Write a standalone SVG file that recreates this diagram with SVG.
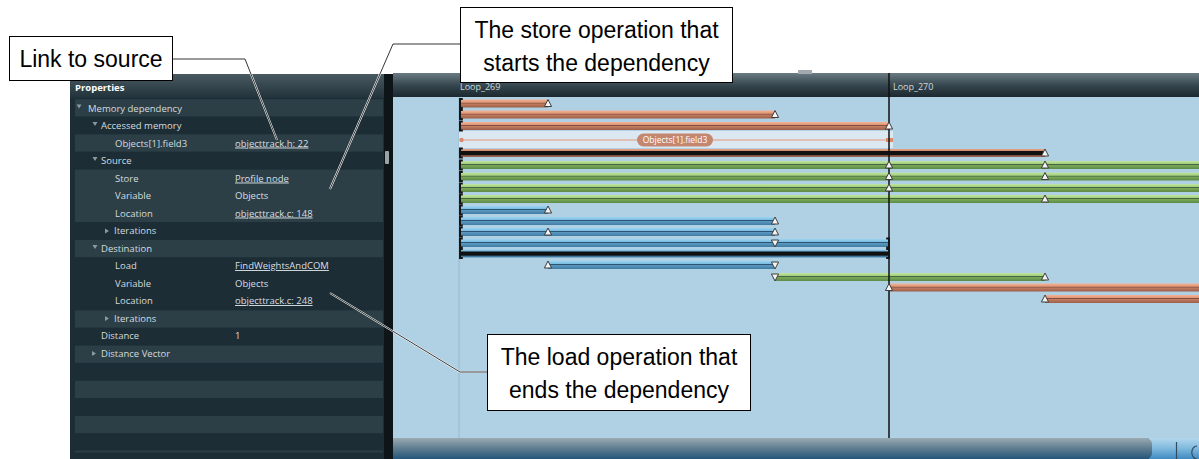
<svg xmlns="http://www.w3.org/2000/svg" width="1199" height="459" viewBox="0 0 1199 459">
<defs>
<linearGradient id="gHdr" x1="0" y1="0" x2="0" y2="1"><stop offset="0" stop-color="#6b7b83"/><stop offset="0.5" stop-color="#37474f"/><stop offset="1" stop-color="#1b2830"/></linearGradient>
<linearGradient id="gPHdr" x1="0" y1="0" x2="0" y2="1"><stop offset="0" stop-color="#4a5a62"/><stop offset="1" stop-color="#22323a"/></linearGradient>
<linearGradient id="gO" x1="0" y1="0" x2="0" y2="1"><stop offset="0" stop-color="#f2b497"/><stop offset="0.36" stop-color="#e09474"/><stop offset="0.44" stop-color="#7e4e3d"/><stop offset="0.56" stop-color="#c27b61"/><stop offset="1" stop-color="#9c5f48"/></linearGradient>
<linearGradient id="gOB" x1="0" y1="0" x2="0" y2="1"><stop offset="0" stop-color="#e8a284"/><stop offset="0.22" stop-color="#d08a70"/><stop offset="0.28" stop-color="#111"/><stop offset="0.72" stop-color="#111"/><stop offset="0.8" stop-color="#7a4d3e"/><stop offset="1" stop-color="#a96b55"/></linearGradient>
<linearGradient id="gG" x1="0" y1="0" x2="0" y2="1"><stop offset="0" stop-color="#c2e5a0"/><stop offset="0.36" stop-color="#a1cf7e"/><stop offset="0.44" stop-color="#44613a"/><stop offset="0.56" stop-color="#78a758"/><stop offset="1" stop-color="#5e8a46"/></linearGradient>
<linearGradient id="gB" x1="0" y1="0" x2="0" y2="1"><stop offset="0" stop-color="#9ed5f1"/><stop offset="0.36" stop-color="#79bbe2"/><stop offset="0.44" stop-color="#28516d"/><stop offset="0.56" stop-color="#5a97c0"/><stop offset="1" stop-color="#417ba2"/></linearGradient>
<linearGradient id="gBB" x1="0" y1="0" x2="0" y2="1"><stop offset="0" stop-color="#8fcbec"/><stop offset="0.22" stop-color="#6eb0d8"/><stop offset="0.28" stop-color="#111"/><stop offset="0.72" stop-color="#111"/><stop offset="0.8" stop-color="#3c6f92"/><stop offset="1" stop-color="#4a84ab"/></linearGradient>
<linearGradient id="gScroll" x1="0" y1="0" x2="0" y2="1"><stop offset="0" stop-color="#9aabb3"/><stop offset="0.5" stop-color="#5e7d8f"/><stop offset="1" stop-color="#24557a"/></linearGradient>
<linearGradient id="gScroll2" x1="0" y1="0" x2="0" y2="1"><stop offset="0" stop-color="#b3d8ee"/><stop offset="0.5" stop-color="#7fb8dc"/><stop offset="1" stop-color="#3e8ac2"/></linearGradient>
<path id="tu" d="M0,-4 L3.6,3 L-3.6,3 Z" fill="#f4f4f4" stroke="#3d3d3d" stroke-width="1"/>
<path id="td" d="M-3.6,-3 L3.6,-3 L0,4 Z" fill="#f4f4f4" stroke="#3d3d3d" stroke-width="1"/>
<path id="bs" d="M3.8,-4.5 H1 V4.5 H3.8" fill="none" stroke="#151515" stroke-width="2"/>
<path id="be" d="M-3.8,-4.5 H-1 V4.5 H-3.8" fill="none" stroke="#151515" stroke-width="2"/>
</defs>
<style>
.pt{font-family:"Open Sans","Noto Sans",sans-serif;font-size:9.5px;fill:#d3dbdf}
.pv{font-family:"Open Sans","Noto Sans",sans-serif;font-size:9.5px;fill:#d8dfe3}
.pu{text-decoration:underline}
.arr{fill:#8c9aa0}
.rl{fill:#2c3f47}
.cb{fill:#ffffff;stroke:#000;stroke-width:1}
.ct{font-family:"Liberation Sans",Arial,sans-serif;font-size:23px;fill:#000;text-anchor:middle}
.lh{fill:none;stroke:#ffffff;stroke-width:2}
.ln{fill:none;stroke:#000;stroke-width:0.8}
.lt{font-family:"Open Sans","Noto Sans",sans-serif;font-size:9px;fill:#d0d8dc}
.o{fill:url(#gO)}
.ob{fill:url(#gOB)}
.g{fill:url(#gG)}
.b{fill:url(#gB)}
.bb{fill:url(#gBB)}
</style>
<rect width="1199" height="459" fill="#ffffff"/>

<g id="properties-panel">
<rect x="70" y="74" width="315" height="385" fill="#1c2d35"/>
<rect x="70" y="74" width="315" height="24" fill="url(#gPHdr)"/>
<text x="75" y="91" font-family="Open Sans, Noto Sans, sans-serif" font-size="9.5" font-weight="bold" fill="#ffffff">Properties</text>
<rect class="rl" x="75" y="99.2" width="308" height="17.2"/>
<rect class="rl" x="75" y="134.4" width="308" height="17.2"/>
<rect class="rl" x="75" y="169.6" width="308" height="52.4"/>
<rect class="rl" x="75" y="240" width="308" height="17.2"/>
<rect class="rl" x="75" y="310.4" width="308" height="17.2"/>
<rect class="rl" x="75" y="345.6" width="308" height="17.2"/>
<rect class="rl" x="75" y="380.8" width="308" height="17.2"/>
<rect class="rl" x="75" y="416" width="308" height="17.2"/>
<rect class="rl" x="75" y="450.5" width="308" height="2"/>
<path class="arr" d="M76.5,104.5 h5 l-2.5,4 z"/>
<text class="pt" x="88" y="111.5">Memory dependency</text>
<path class="arr" d="M92.5,122 h5 l-2.5,4 z"/>
<text class="pt" x="101" y="129">Accessed memory</text>
<text class="pt" x="115" y="146.5">Objects[1].field3</text>
<text class="pv pu" x="235" y="146.5">objecttrack.h: 22</text>
<path class="arr" d="M92.5,157 h5 l-2.5,4 z"/>
<text class="pt" x="101" y="164">Source</text>
<text class="pt" x="115" y="181.5">Store</text>
<text class="pv pu" x="235" y="181.5">Profile node</text>
<text class="pt" x="115" y="199">Variable</text>
<text class="pv" x="235" y="199">Objects</text>
<text class="pt" x="115" y="216.5">Location</text>
<text class="pv pu" x="235" y="216.5">objecttrack.c: 148</text>
<path class="arr" d="M105,228.5 v5 l4,-2.5 z"/>
<text class="pt" x="114" y="234">Iterations</text>
<path class="arr" d="M92.5,245 h5 l-2.5,4 z"/>
<text class="pt" x="101" y="251.5">Destination</text>
<text class="pt" x="115" y="269">Load</text>
<text class="pv pu" x="235" y="269">FindWeightsAndCOM</text>
<text class="pt" x="115" y="286.5">Variable</text>
<text class="pv" x="235" y="286.5">Objects</text>
<text class="pt" x="115" y="304">Location</text>
<text class="pv pu" x="235" y="304">objecttrack.c: 248</text>
<path class="arr" d="M105,316 v5 l4,-2.5 z"/>
<text class="pt" x="114" y="321.5">Iterations</text>
<text class="pt" x="101" y="339">Distance</text>
<text class="pv" x="235" y="339">1</text>
<path class="arr" d="M92,351 v5 l4,-2.5 z"/>
<text class="pt" x="101" y="356.5">Distance Vector</text>
<rect x="384" y="74" width="9" height="385" fill="#0d1519"/>
<rect x="385" y="151" width="4" height="13" rx="1" fill="#9aa3a8"/>
</g>

<g id="timeline">
<rect x="393" y="97" width="806" height="341" fill="#b0d0e4"/>
<rect x="393" y="73" width="806" height="24" fill="url(#gHdr)"/>
<rect x="798" y="70" width="14" height="4" fill="#a0aab0"/>
<text class="lt" x="460" y="90">Loop_269</text>
<text class="lt" x="893" y="90">Loop_270</text>
<line x1="459" y1="97" x2="459" y2="438" stroke="#98b9ce" stroke-width="1"/>
<rect x="393" y="438" width="756" height="21" fill="url(#gScroll)"/>
<rect x="1149" y="438" width="50" height="21" fill="url(#gScroll2)"/>
<rect x="1140" y="438" width="12" height="21" rx="6" fill="url(#gScroll)"/>
<line x1="1176.5" y1="442" x2="1176.5" y2="459" stroke="#2d4c62" stroke-width="1.2"/>
<path d="M1197,446 a4,5 0 0 0 0,13" fill="none" stroke="#2d4c62" stroke-width="1.2"/>
</g>

<g id="highlight-row">
<rect x="459" y="131" width="434" height="17" fill="#dbe8f1"/>
<line x1="461" y1="140" x2="891" y2="140" stroke="#e2b3a1" stroke-width="1.3"/>
<circle cx="461.5" cy="140" r="2.2" fill="#d98c6c"/>
<rect x="886" y="138" width="7" height="4" fill="#d98c6c"/>
<rect x="637" y="133.5" width="76" height="13" rx="6.5" fill="#c58670"/>
<text x="675" y="143" font-family="Open Sans, Noto Sans, sans-serif" font-size="8.5" fill="#ffffff" text-anchor="middle">Objects[1].field3</text>
</g>

<g id="bars">
<rect class="o" x="460" y="99.5" width="88" height="8"/>
<rect class="o" x="460" y="110.5" width="315" height="8"/>
<rect class="o" x="460" y="122" width="429" height="8"/>
<rect class="ob" x="460" y="149" width="585" height="8"/>
<rect class="g" x="460" y="161" width="739" height="8"/>
<rect class="g" x="460" y="172.5" width="739" height="8"/>
<rect class="g" x="460" y="184" width="739" height="8"/>
<rect class="g" x="460" y="195" width="739" height="8"/>
<rect class="b" x="460" y="206" width="88" height="8"/>
<rect class="b" x="460" y="217" width="315" height="8"/>
<rect class="b" x="460" y="228" width="315" height="8"/>
<rect class="b" x="460" y="239" width="429" height="8"/>
<rect class="bb" x="460" y="249.5" width="429" height="8"/>
<rect class="b" x="548" y="261" width="227" height="8"/>
<rect class="g" x="775" y="273" width="270" height="8"/>
<rect class="o" x="889" y="283.5" width="310" height="8"/>
<rect class="o" x="1045" y="295" width="154" height="8"/>
</g>

<line x1="889" y1="73" x2="889" y2="438" stroke="#111" stroke-width="1.5"/>

<g id="markers">
<use href="#bs" x="459" y="103.5"/>
<use href="#bs" x="459" y="114.5"/>
<use href="#bs" x="459" y="126"/>
<use href="#bs" x="459" y="153"/>
<use href="#bs" x="459" y="165"/>
<use href="#bs" x="459" y="176.5"/>
<use href="#bs" x="459" y="188"/>
<use href="#bs" x="459" y="199"/>
<use href="#bs" x="459" y="210"/>
<use href="#bs" x="459" y="221"/>
<use href="#bs" x="459" y="232"/>
<use href="#bs" x="459" y="243"/>
<use href="#bs" x="459" y="253.5"/>
<use href="#be" x="890" y="243"/>
<use href="#be" x="890" y="253.5"/>
<use href="#tu" x="548" y="103.5"/>
<use href="#tu" x="775" y="114.5"/>
<use href="#tu" x="889" y="126"/>
<use href="#tu" x="1045" y="153"/>
<use href="#tu" x="889" y="165"/>
<use href="#tu" x="1045" y="165"/>
<use href="#tu" x="889" y="176.5"/>
<use href="#tu" x="1045" y="176.5"/>
<use href="#tu" x="889" y="188"/>
<use href="#tu" x="1045" y="199"/>
<use href="#tu" x="548" y="210"/>
<use href="#tu" x="775" y="221"/>
<use href="#tu" x="548" y="232"/>
<use href="#tu" x="775" y="232"/>
<use href="#td" x="775" y="243"/>
<use href="#tu" x="548" y="265"/>
<use href="#td" x="775" y="265"/>
<use href="#td" x="775" y="277"/>
<use href="#tu" x="1045" y="277"/>
<use href="#tu" x="889" y="287.5"/>
<use href="#tu" x="1045" y="299"/>
</g>

<g id="connectors">
<polyline class="lh" points="173,59 245,59 277,140"/>
<polyline class="ln" points="173,59 245,59 277,140"/>
<polyline class="lh" points="460,44 393,44 330,189"/>
<polyline class="ln" points="460,44 393,44 330,189"/>
<polyline class="lh" points="487,372 460,372 330,293"/>
<polyline class="ln" points="487,372 460,372 330,293"/>
</g>

<g id="callout-link">
<rect class="cb" x="9.5" y="36.5" width="163" height="44"/>
<text class="ct" x="91" y="67">Link to source</text>
</g>
<g id="callout-store">
<rect class="cb" x="460.5" y="7.5" width="272" height="75"/>
<text class="ct" x="596.5" y="38">The store operation that</text>
<text class="ct" x="596.5" y="71">starts the dependency</text>
</g>
<g id="callout-load">
<rect class="cb" x="487.5" y="334.5" width="263" height="76"/>
<text class="ct" x="619" y="365">The load operation that</text>
<text class="ct" x="619" y="398">ends the dependency</text>
</g>
</svg>
